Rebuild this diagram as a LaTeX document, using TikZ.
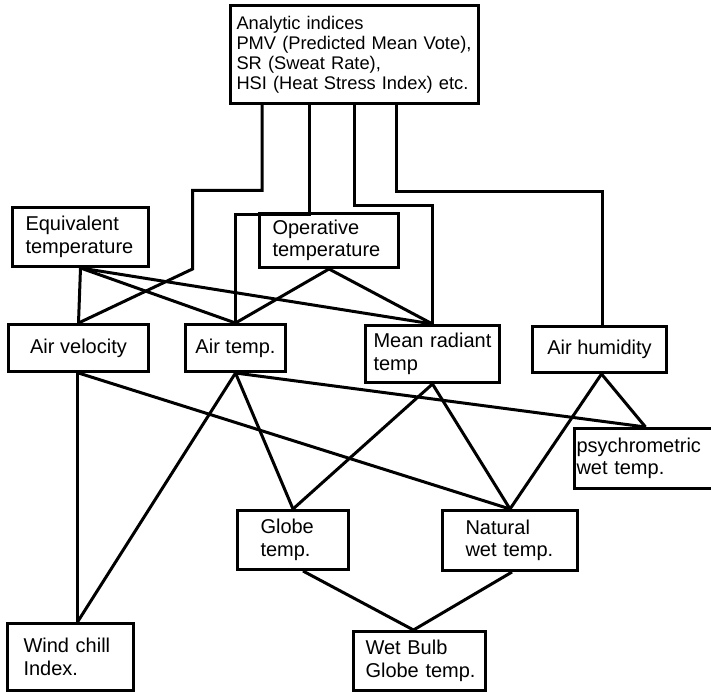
\documentclass[tikz,border=0pt]{standalone}
\usepackage{fontspec}
\setmainfont{Liberation Sans}
\usetikzlibrary{calc}
\begin{document}
\begin{tikzpicture}[x=1pt,y=-1pt,
  box/.style={draw, line width=3pt, inner ysep=0pt, align=left,
    font=\fontsize{20}{22.5}\selectfont},
  cbox/.style={draw, line width=3pt, inner sep=0pt, align=center,
    font=\fontsize{20}{22.5}\selectfont},
  link/.style={line width=3pt, line join=miter}]
\useasboundingbox[fill=white] (0,0) rectangle (711,692);

% index box at the top
\node[box, font=\fontsize{18.3}{20}\selectfont, inner xsep=6pt, text width=236pt,
  minimum height=98pt] (top) at (354.5,54.5)
  {\mbox{Analytic indices}\\\mbox{PMV (Predicted Mean Vote),}\\\mbox{SR (Sweat Rate),}\\\mbox{HSI (Heat Stress Index) etc.}};

% derived temperatures
\node[box, inner xsep=13pt, text width=110pt, minimum height=59pt] (eq) at (80.5,237)
  {\mbox{Equivalent}\\\mbox{temperature}};
\node[box, inner xsep=13pt, text width=113pt, minimum height=54pt] (op) at (329,240.5)
  {\mbox{Operative}\\\mbox{temperature}};

% basic climate quantities
\node[cbox, minimum width=140pt, minimum height=47pt] (av) at (78.5,348) {Air velocity};
\node[cbox, minimum width=100pt, minimum height=47pt] (at) at (235.5,348) {Air temp.};
\node[box, inner xsep=8pt, text width=118pt, minimum height=57pt] (mrt) at (432.5,354)
  {\mbox{Mean radiant}\\\mbox{temp}};
\node[cbox, minimum width=134pt, minimum height=46pt] (hum) at (599.5,349.5) {Air humidity};

% measured temperatures
\node[box, inner xsep=2pt, text width=138pt, minimum height=60pt] (psy) at (645.5,458.5)
  {\mbox{psychrometric}\\\mbox{wet temp.}};
\node[box, inner xsep=23pt, text width=65pt, minimum height=59pt] (globe) at (293,540)
  {\mbox{Globe}\\\mbox{temp.}};
\node[box, inner xsep=23pt, text width=89pt, minimum height=60pt] (nat) at (510,540.5)
  {\mbox{Natural}\\\mbox{wet temp.}};

% combined indices
\node[box, inner xsep=12pt, text width=108pt, minimum height=59pt] (wbgt) at (419.5,661)
  {\mbox{Wet Bulb}\\\mbox{Globe temp.}};
\node[box, inner xsep=16pt, text width=94pt, minimum height=67pt] (wc) at (70.5,657)
  {\mbox{Wind chill}\\\mbox{Index.}};

% bend points of the stepped connectors below the index box
\coordinate (k1) at (192.5,190.5);
\coordinate (k1b) at (192.5,269);
\coordinate (k2) at (235.5,214.5);
\coordinate (k3) at (432.5,205.5);
\coordinate (k4) at (602.5,191.5);
\coordinate (wcstart) at ([xshift=-1pt]av.south);
\coordinate (wctop) at (wcstart |- wc.north);

\draw[link] ([xshift=33pt]top.south west) |- (k1) -- (k1b) -- (av.north);
\draw[link] ([xshift=80pt]top.south west) |- (k2) -- (at.north);
\draw[link] ([xshift=125pt]top.south west) |- (k3) -- (mrt.north);
\draw[link] ([xshift=167pt]top.south west) |- (k4) -- (k4 |- hum.north);

% links between the quantities
\draw[link] (eq.south) -- (av.north);
\draw[link] (eq.south) -- (at.north);
\draw[link] (eq.south) -- (mrt.north);
\draw[link] (op.south) -- (at.north);
\draw[link] (op.south) -- (mrt.north);

\draw[link] (wcstart) -- (wctop);
\draw[link] (av.south) -- (nat.north);
\draw[link] (at.south) -- (wctop);
\draw[link] (at.south) -- (globe.north);
\draw[link] (at.south) -- (psy.north);
\draw[link] (mrt.south) -- (globe.north);
\draw[link] (mrt.south) -- (nat.north);
\draw[link] ([xshift=2pt]hum.south) -- (psy.north);
\draw[link] ([xshift=2pt]hum.south) -- (nat.north);

\draw[link] ([xshift=10pt]globe.south) -- ([xshift=-6pt]wbgt.north);
\draw[link] ([xshift=2pt]nat.south) -- ([xshift=-6pt]wbgt.north);
\end{tikzpicture}
\end{document}
